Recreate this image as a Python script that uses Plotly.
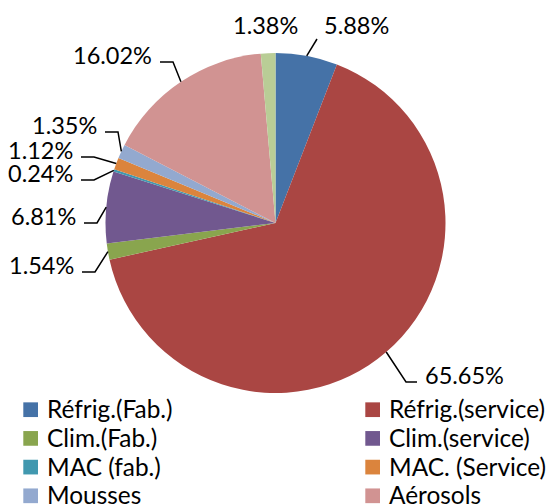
import math
import plotly.graph_objects as go

# ---- data ----
categories = ["Réfrig.(Fab.)", "Réfrig.(service)", "Clim.(Fab.)", "Clim.(service)",
              "MAC (fab.)", "MAC. (Service)", "Mousses", "Aérosols", "Autres"]
shares = [5.88, 65.65, 1.54, 6.81, 0.24, 1.12, 1.35, 16.02, 1.38]
colors = ["#4572A7", "#AA4643", "#89A54E", "#71588F", "#4198AF",
          "#DB843D", "#93A9CF", "#D19392", "#B9CD96"]
legend_count = 8  # the 9th legend entry falls outside the picture

# ---- layout constants (pixels) ----
W, H = 548, 504
CX, CY, R = 275.5, 223.0, 170.0
FONT = "Lato"
FS_LABEL = 23.5
FS_LEGEND = 24.4

# label text anchor per slice: (x, y, side) ; side 'L' = text right-aligned at x,
# 'R' = text left-aligned at x, 'T' = above the slice, 'N' = no leader line
label_pos = [
    (322, 25, "T"),
    (423, 375, "R"),
    (76, 265, "L"),
    (78, 216, "L"),
    (75, 173, "L"),
    (75, 150, "L"),
    (99, 125, "L"),
    (154, 55, "L"),
    (300, 25, "N"),
]


def px(x):
    return x / W


def py(y):
    return 1 - y / H


fig = go.Figure()
fig.add_trace(go.Pie(
    labels=categories, values=shares, sort=False, direction="clockwise",
    rotation=0, marker=dict(colors=colors, line=dict(width=0)),
    textinfo="none", hoverinfo="label+percent", showlegend=False,
    domain=dict(x=[px(CX - R), px(CX + R)], y=[py(CY + R), py(CY - R)]),
))

total = sum(shares)
annotations = []
shapes = []
cum = 0.0
for i, v in enumerate(shares):
    mid = (cum + v / 2) / total * 2 * math.pi
    cum += v
    ex = CX + R * math.sin(mid)
    ey = CY - R * math.cos(mid)
    tx, ty, side = label_pos[i]
    txt = f"{v:.2f}%"
    base = dict(x=px(tx), y=py(ty), text=txt, yanchor="middle",
                font=dict(family=FONT, size=FS_LABEL, color="black"))
    if side == "L":
        annotations.append(dict(base, xanchor="right"))
        pts = [(tx + 6, ty + 7), (tx + 19, ty + 7), (ex, ey)]
    elif side == "R":
        annotations.append(dict(base, xanchor="left"))
        pts = [(tx - 6, ty + 7), (tx - 17, ty + 7), (ex, ey)]
    elif side == "T":
        annotations.append(dict(base, xanchor="left"))
        pts = [(tx - 5, ty + 14), (ex, ey)]
    else:
        annotations.append(dict(base, xanchor="right"))
        pts = []
    if pts:
        path = "M " + " L ".join(f"{px(a):.5f},{py(b):.5f}" for a, b in pts)
        shapes.append(dict(type="path", xref="paper", yref="paper", path=path,
                           line=dict(color="black", width=1.5)))

# legend (two columns)
col_sq = [23.3, 365.3]
col_tx = [45, 387]
row0, row_step, sq = 409.7, 28.7, 14.7
for i in range(legend_count):
    c, r = i % 2, i // 2
    yc = row0 + r * row_step
    shapes.append(dict(type="rect", xref="paper", yref="paper",
                       x0=px(col_sq[c]), x1=px(col_sq[c] + sq),
                       y0=py(yc + sq / 2), y1=py(yc - sq / 2),
                       fillcolor=colors[i], line=dict(width=0)))
    annotations.append(dict(x=px(col_tx[c]), y=py(yc - 1), text=categories[i],
                            xanchor="left", yanchor="middle",
                            font=dict(family=FONT, size=FS_LEGEND, color="black")))

for a in annotations:
    a.update(xref="paper", yref="paper", showarrow=False)

fig.update_layout(
    width=W, height=H, margin=dict(l=0, r=0, t=0, b=0),
    paper_bgcolor="white", plot_bgcolor="white",
    annotations=annotations, shapes=shapes, showlegend=False,
)
fig.write_html("out.html", config={"displayModeBar": False},
               post_script="document.body.style.margin='0';document.body.style.overflow='hidden';")
